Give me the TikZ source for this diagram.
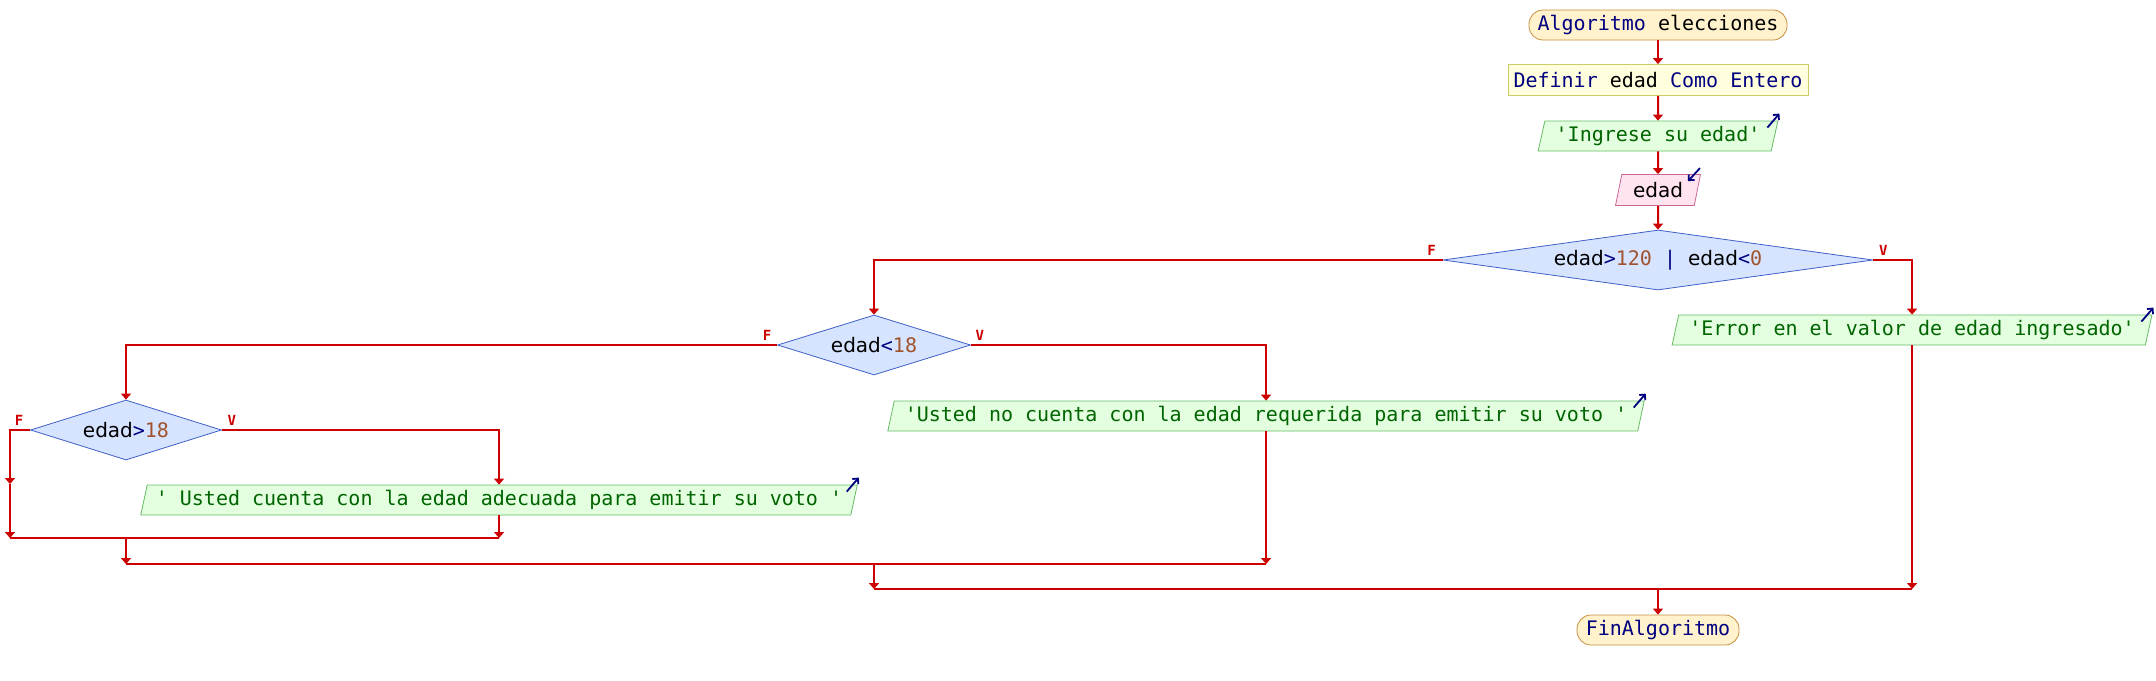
\documentclass[tikz,border=0pt]{standalone}
\usepackage{fontspec}
\setmainfont{DejaVu Sans}
\setmonofont{DejaVu Sans Mono}
\usetikzlibrary{shapes.geometric, arrows.meta}

\definecolor{flowred}{HTML}{CC0000}
\definecolor{kwdblue}{HTML}{000080}
\definecolor{nmbbrown}{HTML}{A0522D}
\definecolor{termfill}{HTML}{FFF2CC}
\definecolor{termline}{HTML}{C89040}
\definecolor{procfill}{HTML}{FFFFDD}
\definecolor{procline}{HTML}{CCCC66}
\definecolor{outfill}{HTML}{E4FFE0}
\definecolor{outline}{HTML}{66BB66}
\definecolor{outtext}{HTML}{006400}
\definecolor{infill}{HTML}{FFE4F0}
\definecolor{inline}{HTML}{CC6699}
\definecolor{condfill}{HTML}{D6E4FF}
\definecolor{condline}{HTML}{4060C8}

\newcommand{\kwd}[1]{\textcolor{kwdblue}{#1}}
\newcommand{\nmb}[1]{\textcolor{nmbbrown}{#1}}
\newcommand{\idf}[1]{\textcolor{black}{\rmfamily #1}}

\begin{document}
\begin{tikzpicture}[x = .5pt, y = -.5pt,
    every node/.style = {font=\ttfamily\fontsize{10}{12}\selectfont},
    term/.style = {rectangle, rounded corners=7pt, draw=termline, fill=termfill, minimum height=15pt, inner sep=0pt},
    proc/.style = {rectangle, draw=procline, fill=procfill, minimum height=15.5pt, inner sep=0pt},
    outp/.style = {trapezium, trapezium left angle=72, trapezium right angle=108, trapezium stretches,
                   draw=outline, fill=outfill, text=outtext, minimum height=15pt, inner xsep=2pt, inner ysep=0pt},
    inp/.style = {trapezium, trapezium left angle=72, trapezium right angle=108, trapezium stretches,
                  draw=inline, fill=infill, minimum height=15.5pt, inner xsep=2pt, inner ysep=0pt},
    cond/.style = {diamond, draw=condline, fill=condfill, minimum height=30pt, inner sep=0pt},
    flag/.style = {text=flowred, font=\ttfamily\bfseries\fontsize{7}{8}\selectfont, inner sep=0pt},
    flow/.style = {draw=flowred, line width=1pt, -{Triangle[width=5pt,length=3pt]}},
    mergeline/.style = {draw=flowred, line width=1pt},
    outmark/.style = {draw=kwdblue, line width=.9pt, -{Straight Barb[length=2pt,width=4pt]}}]
        \fill[white] (0,0) rectangle (2156,680);
        \useasboundingbox (0,0) rectangle (2156,680);

        \node[term, minimum width=129pt] (start) at (1658,25) {\kwd{Algoritmo} elecciones};
        \node[proc, minimum width=150pt] (def) at (1658,80) {\kwd{Definir} edad \kwd{Como Entero}};
        \node[outp, minimum width=120pt] (ingr) at (1658,136) {'Ingrese su edad'};
        \node[inp, minimum width=42.5pt] (leer) at (1658,190) {\idf{edad}};
        \node[cond, aspect=7, minimum width=215pt] (d1) at (1658,260)
            {\idf{edad}\kwd{>}\nmb{120} \kwd{|} \idf{edad}\kwd{<}\nmb{0}};
        \node[outp, minimum width=240pt] (err) at (1912,330) {'Error en el valor de edad ingresado'};
        \node[cond, aspect=3, minimum width=96.5pt] (d2) at (874,345) {\idf{edad}\kwd{<}\nmb{18}};
        \node[outp, minimum width=379pt] (nocu) at (1266,416)
            {'Usted no cuenta con la edad requerida para emitir su voto '};
        \node[cond, aspect=3, minimum width=95.5pt] (d3) at (126,430) {\idf{edad}\kwd{>}\nmb{18}};
        \node[outp, minimum width=359pt] (cuen) at (499,500)
            {' Usted cuenta con la edad adecuada para emitir su voto '};
        \node[term, minimum width=81pt] (fin) at (1658,630) {\kwd{FinAlgoritmo}};

        \node[flag] (d1f) at ([shift={(-11,-10)}]d1.west) {F};
        \node[flag] (d1v) at ([shift={(10,-10)}]d1.east) {V};
        \node[flag] (d2f) at ([shift={(-10,-10)}]d2.west) {F};
        \node[flag] (d2v) at ([shift={(9,-10)}]d2.east) {V};
        \node[flag] (d3f) at ([shift={(-11,-10)}]d3.west) {F};
        \node[flag] (d3v) at ([shift={(10,-10)}]d3.east) {V};

        \coordinate (f3) at (10,484);
        \coordinate (j3) at (126,538);
        \coordinate (j2) at (874,564);
        \coordinate (j1) at (1658,589);

        \draw[flow] (start) -- (def);
        \draw[flow] (def) -- (ingr.north);
        \draw[flow] (ingr.south) -- (leer.north);
        \draw[flow] (leer.south) -- (d1.north);
        \draw[flow] (d1.west) -| (d2.north);
        \draw[flow] (d1.east) -| (err.north);
        \draw[flow] (d2.west) -| (d3.north);
        \draw[flow] (d2.east) -| (nocu.north);
        \draw[flow] (d3.west) -| (f3);
        \draw[flow] (d3.east) -| (cuen.north);

        \draw[flow] (f3) -- (f3 |- j3);
        \draw[flow] (cuen.south) -- (cuen.south |- j3);
        \draw[mergeline] (f3 |- j3) -- (cuen.south |- j3);
        \draw[flow] (j3) -- (j3 |- j2);
        \draw[flow] (nocu.south) -- (nocu.south |- j2);
        \draw[mergeline] (j3 |- j2) -- (nocu.south |- j2);
        \draw[flow] (j2) -- (j2 |- j1);
        \draw[flow] (err.south) -- (err.south |- j1);
        \draw[mergeline] (j2 |- j1) -- (err.south |- j1);
        \draw[flow] (j1) -- (fin.north);

        \draw[outmark] ([shift={(-11,7)}]ingr.top right corner) -- ([shift={(1,-7)}]ingr.top right corner);
        \draw[outmark] ([shift={(-11,7)}]err.top right corner) -- ([shift={(1,-7)}]err.top right corner);
        \draw[outmark] ([shift={(-11,7)}]nocu.top right corner) -- ([shift={(1,-7)}]nocu.top right corner);
        \draw[outmark] ([shift={(-11,7)}]cuen.top right corner) -- ([shift={(1,-7)}]cuen.top right corner);
        \draw[outmark] ([shift={(-1,-6)}]leer.top right corner) -- ([shift={(-13,7)}]leer.top right corner);
      \end{tikzpicture}
\end{document}
